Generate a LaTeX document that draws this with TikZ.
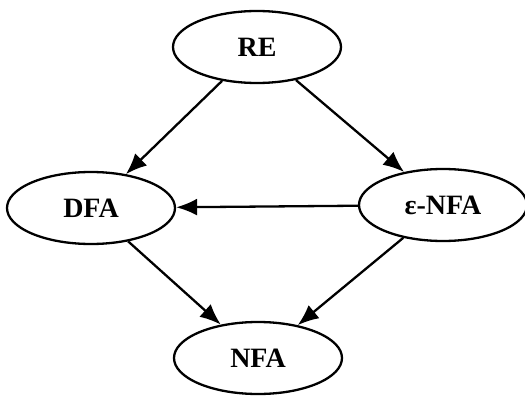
\documentclass[tikz,border=0pt]{standalone}
\usepackage{fontspec}
\setmainfont{Liberation Serif}
\usepackage{tikz}
\usetikzlibrary{arrows.meta, positioning, shapes.geometric}

\tikzset{
  automaton/.style={ellipse, draw, line width=2.3pt, minimum width=168pt,
    minimum height=72pt, inner sep=0pt, font=\fontsize{28}{32}\selectfont\bfseries},
  conv/.style={line width=2.3pt, -{Latex[length=21pt, width=17pt]}}
}

\begin{document}
\begin{tikzpicture}[x=1pt, y=-1pt]
  % Page frame, same proportions as the reference
  \useasboundingbox (0,0) rectangle (525,396);

  % The four kinds of description
  \node[automaton] (re)   at (257,47)  {RE};
  \node[automaton] (dfa)  at (91,208)  {DFA};
  \node[automaton] (enfa) at (443,205) {ε-NFA};
  \node[automaton] (nfa)  at (258,358) {NFA};

  % Conversions between them
  \draw[conv] (re) -- (dfa);
  \draw[conv] (re) -- (enfa);
  \draw[conv] (enfa) -- (dfa);
  \draw[conv] (dfa) -- (nfa);
  \draw[conv] (enfa) -- (nfa);
\end{tikzpicture}
\end{document}
